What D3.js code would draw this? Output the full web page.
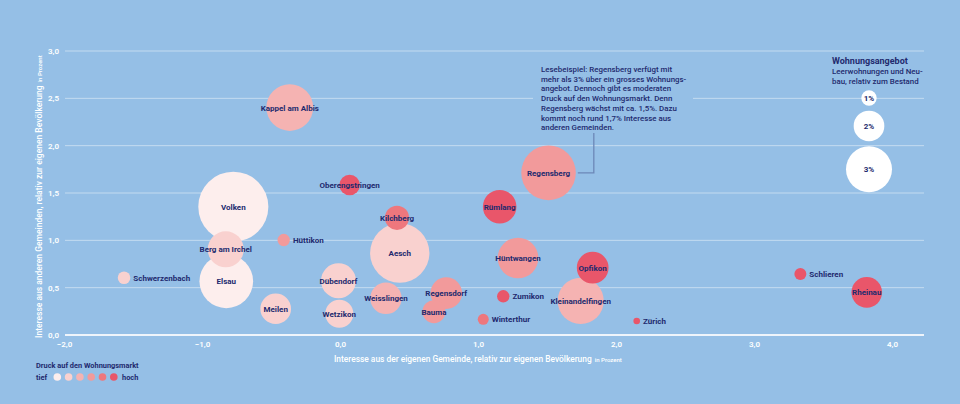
<!DOCTYPE html>
<html><head><meta charset="utf-8">
<script src="https://cdn.jsdelivr.net/npm/d3@7"></script>
<style>
html,body{margin:0;padding:0;background:#95bfe6;}
svg{display:block;font-family:Roboto,"Open Sans",sans-serif;}
</style></head>
<body><svg id="c" width="960" height="404"></svg>
<script>
// ---- data ----
const categories = ["Volken","Aesch","Regensberg","Elsau","Kappel am Albis","Kleinandelfingen","Hüntwangen","Berg am Irchel","Dübendorf","Rümlang","Opfikon","Regensdorf","Weisslingen","Meilen","Rheinau","Wetzikon","Kilchberg","Bauma","Oberengstringen","Schwerzenbach","Hüttikon","Zumikon","Schlieren","Winterthur","Zürich"];
const ownInterest   = [-0.773, 0.433, 1.511, -0.824, -0.364, 1.744, 1.290, -0.828, -0.011, 1.157, 1.831, 0.770, 0.333, -0.466, 3.817, -0.005, 0.413, 0.681, 0.070, -1.565, -0.408, 1.183, 3.336, 1.038, 2.150];
const otherInterest = [1.355, 0.866, 1.713, 0.567, 2.403, 0.361, 0.813, 0.905, 0.573, 1.355, 0.711, 0.442, 0.388, 0.277, 0.451, 0.224, 1.238, 0.246, 1.584, 0.605, 1.003, 0.409, 0.644, 0.166, 0.148];
const supply        = [4.57, 3.87, 3.56, 3.50, 3.05, 3.01, 2.65, 2.35, 2.28, 2.19, 2.07, 2.06, 2.05, 2.00, 2.00, 1.83, 1.58, 1.50, 1.34, 0.82, 0.81, 0.81, 0.78, 0.72, 0.43];
const pressure      = [0, 1, 3, 0, 2, 2, 3, 1, 1, 5, 5, 3, 2, 1, 5, 1, 4, 3, 5, 1, 3, 5, 5, 4, 5];
const xTicks = [-2, -1, 0, 1, 2, 3, 4];
const yTicks = [0, 0.5, 1, 1.5, 2, 2.5, 3];
const supplyLegend = [1, 2, 3];
const supplyLegendLabels = ["1%", "2%", "3%"];
const pressureColors = ["#fdeeed", "#f9d1cf", "#f5b3b2", "#f29a9b", "#ee777d", "#e9566a"];
const xTitle = "Interesse aus der eigenen Gemeinde, relativ zur eigenen Bevölkerung";
const yTitle = "Interesse aus anderen Gemeinden, relativ zur eigenen Bevölkerung";
const unitLabel = "in Prozent";
const noteLines = ["Lesebeispiel: Regensberg verfügt mit","mehr als 3% über ein grosses Wohnungs-","angebot. Dennoch gibt es moderaten","Druck auf den Wohnungsmarkt. Denn","Regensberg wächst mit ca. 1,5%. Dazu","kommt noch rund 1,7% Interesse aus","anderen Gemeinden."];
const sizeLegendTitle = ["Wohnungsangebot","Leerwohnungen und Neu-","bau, relativ zum Bestand"];
const colorLegendTitle = "Druck auf den Wohnungsmarkt";
const colorLegendEnds = ["tief", "hoch"];

// ---- setup ----
const NAVY = "#222a6e";
const svg = d3.select("#c");
const x = d3.scaleLinear().domain([-2, 4]).range([64, 892]);
const y = d3.scaleLinear().domain([0, 3]).range([335, 51]);
const r = d3.scaleLinear().domain([0, 3]).range([0, 23]);
const plotRight = 924;
const loc = d3.formatLocale({decimal: ",", thousands: "'", grouping: [3], currency: ["", ""], minus: "\u2212"});
const fmt = loc.format(".1f");

// grid
const grid = svg.append("g");
grid.selectAll("line").data(yTicks).join("line")
  .attr("x1", x(-2) + 1).attr("x2", plotRight)
  .attr("y1", d => y(d)).attr("y2", d => y(d))
  .attr("stroke", d => d === 0 ? "#eef4fb" : "rgba(255,255,255,0.45)")
  .attr("stroke-width", d => d === 0 ? 2 : 1);

// y axis labels
const yAxis = d3.axisLeft(y).tickValues(yTicks).tickFormat(fmt).tickSize(0).tickPadding(0);
const gy = svg.append("g").attr("transform", "translate(59,0)").call(yAxis);
gy.select(".domain").remove();
gy.selectAll("text").attr("fill", "#fff").attr("font-size", 8).attr("font-weight", 600).attr("font-family", "Roboto, sans-serif");

// x axis labels
const xAxis = d3.axisBottom(x).tickValues(xTicks).tickFormat(fmt).tickSize(0).tickPadding(0);
const gx = svg.append("g").attr("transform", "translate(0,341)").call(xAxis);
gx.select(".domain").remove();
gx.selectAll("text").attr("fill", "#fff").attr("font-size", 8).attr("font-weight", 600).attr("font-family", "Roboto, sans-serif");

// axis titles
const xt = svg.append("text").attr("x", 334).attr("y", 362).attr("fill", "#fff").attr("font-size", 8.4).attr("font-weight", 500);
xt.append("tspan").text(xTitle);
xt.append("tspan").attr("font-size", 6).attr("dx", 3).text(unitLabel);
const yt = svg.append("text").attr("transform", "translate(42,338) rotate(-90)").attr("fill", "#fff").attr("font-size", 8.5).attr("font-weight", 500);
yt.append("tspan").text(yTitle);
yt.append("tspan").attr("font-size", 6).attr("dx", 3).text(unitLabel);

// annotation background (hides grid behind text) + text
svg.append("rect").attr("x", 533).attr("y", 60).attr("width", 160).attr("height", 73).attr("fill", "#95bfe6");
const idxR = categories.indexOf("Regensberg");
const rx = x(ownInterest[idxR]), ry = y(otherInterest[idxR]), rr = r(supply[idxR]);
svg.append("path")
  .attr("d", `M${rx + rr + 2},${ry}H${rx + rr + 18}V133`)
  .attr("fill", "none").attr("stroke", "#6c88b8").attr("stroke-width", 1.3);
svg.append("g").selectAll("text").data(noteLines).join("text")
  .attr("x", 541).attr("y", (d, i) => 72 + i * 9.7)
  .attr("fill", NAVY).attr("font-size", 7.9).attr("font-weight", 500).text(d => d);

// bubbles
const data = categories.map((c, i) => ({name: c, x: ownInterest[i], y: otherInterest[i], s: supply[i], p: pressure[i]}))
  .sort((a, b) => b.s - a.s);
svg.append("g").selectAll("circle").data(data).join("circle")
  .attr("cx", d => x(d.x)).attr("cy", d => y(d.y)).attr("r", d => r(d.s))
  .attr("fill", d => pressureColors[d.p]);
svg.append("g").selectAll("text").data(data).join("text")
  .attr("x", d => d.s < 1 ? x(d.x) + r(d.s) + 3 : x(d.x))
  .attr("y", d => y(d.y) + 3)
  .attr("text-anchor", d => d.s < 1 ? "start" : "middle")
  .attr("fill", NAVY).attr("font-size", 8).attr("font-weight", 700)
  .text(d => d.name);

// size legend
const lg = svg.append("g");
lg.selectAll("text").data(sizeLegendTitle).join("text")
  .attr("x", 832).attr("y", (d, i) => 64 + i * 10)
  .attr("fill", NAVY).attr("font-size", (d, i) => i === 0 ? 9 : 7.9).attr("font-weight", (d, i) => i === 0 ? 700 : 500)
  .text(d => d);
let cy = 90.3;
const legendPos = supplyLegend.map((v, i) => {
  const rad = r(v);
  const c = cy + rad;
  cy = c + rad + 5;
  return {v, rad, c, label: supplyLegendLabels[i]};
});
lg.selectAll("circle").data(legendPos).join("circle")
  .attr("cx", 869).attr("cy", d => d.c).attr("r", d => d.rad).attr("fill", "#fff");
lg.selectAll("text.l").data(legendPos).join("text").attr("class", "l")
  .attr("x", 869).attr("y", d => d.c + 3).attr("text-anchor", "middle")
  .attr("fill", NAVY).attr("font-size", 8).attr("font-weight", 700).text(d => d.label);

// colour legend
const cl = svg.append("g");
cl.append("text").attr("x", 36).attr("y", 368).attr("fill", NAVY).attr("font-size", 7.4).attr("font-weight", 700).text(colorLegendTitle);
cl.append("text").attr("x", 36).attr("y", 380).attr("fill", NAVY).attr("font-size", 7.4).attr("font-weight", 700).text(colorLegendEnds[0]);
cl.selectAll("circle").data(pressureColors).join("circle")
  .attr("cx", (d, i) => 57.3 + i * 11.3).attr("cy", 377).attr("r", 3.8).attr("fill", d => d);
cl.append("text").attr("x", 122).attr("y", 380).attr("fill", NAVY).attr("font-size", 7.4).attr("font-weight", 700).text(colorLegendEnds[1]);
</script></body></html>
